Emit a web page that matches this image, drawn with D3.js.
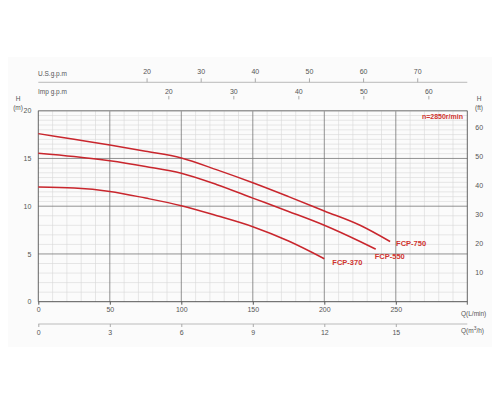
<!DOCTYPE html>
<html>
<head>
<meta charset="utf-8">
<script src="https://cdn.jsdelivr.net/npm/d3@7"></script>
<style>
  body { margin: 0; background: #fff; }
  svg { display: block; font-family: "Liberation Sans", Arial, sans-serif; }
  .tick text { fill: #555; font-size: 7px; }
</style>
</head>
<body>
<div id="chart"></div>
<script>
// flow in L/min, head in m
const flow750 = [0, 25, 50, 75, 100, 125, 150, 175, 200, 225, 246];
const head750 = [17.6, 17.0, 16.4, 15.75, 15.05, 13.8, 12.45, 11.0, 9.5, 8.0, 6.3];
const flow550 = [0, 25, 50, 75, 100, 125, 150, 175, 200, 225, 236];
const head550 = [15.55, 15.2, 14.75, 14.15, 13.45, 12.25, 10.85, 9.45, 8.0, 6.3, 5.5];
const flow370 = [0, 25, 50, 75, 100, 125, 150, 175, 200];
const head370 = [12.0, 11.9, 11.55, 10.85, 10.05, 9.0, 7.85, 6.35, 4.5];
const models = ['FCP-750', 'FCP-550', 'FCP-370'];

const lpmTicks = [0, 50, 100, 150, 200, 250];
const m3hTicks = [0, 3, 6, 9, 12, 15];
const usTicks = [20, 30, 40, 50, 60, 70];
const impTicks = [20, 30, 40, 50, 60];
const mTicks = [0, 5, 10, 15, 20];
const ftTicks = [10, 20, 30, 40, 50, 60];

function renderChart(containerSelector) {
  const W = 500, H = 400;
  const left = 38.3, right = 467.3, top = 110.7, bottom = 301.7;
  const red = '#c9262d';

  const svg = d3.select(containerSelector).append('svg')
    .attr('width', W).attr('height', H);

  svg.append('rect').attr('x', 8).attr('y', 57).attr('width', 484).attr('height', 290)
    .attr('fill', '#fbfbfb');

  const x = d3.scaleLinear().domain([0, 300]).range([left, right]);
  const y = d3.scaleLinear().domain([0, 20]).range([bottom, top]);
  const xUS = d3.scaleLinear().domain([0, 300 / 3.78541]).range([left, right]);
  const xImp = d3.scaleLinear().domain([0, 300 / 4.54609]).range([left, right]);
  const xM3 = d3.scaleLinear().domain([0, 18]).range([left, right]);
  const yFt = d3.scaleLinear().domain([0, 20 / 0.3048]).range([bottom, top]);

  // grid
  const grid = svg.append('g');
  const vMinor = d3.range(10, 300, 10).filter(v => v % 50 !== 0);
  const hMinor = d3.range(0.5, 20, 0.5).filter(v => v % 5 !== 0 && (v >= 10 || v % 1 === 0));
  grid.selectAll('.vmin').data(vMinor).join('line')
    .attr('x1', d => x(d)).attr('x2', d => x(d)).attr('y1', top).attr('y2', bottom)
    .attr('stroke', '#d6d6d6').attr('stroke-width', 0.6);
  grid.selectAll('.hmin').data(hMinor).join('line')
    .attr('x1', left).attr('x2', right).attr('y1', d => y(d)).attr('y2', d => y(d))
    .attr('stroke', '#d6d6d6').attr('stroke-width', 0.6);
  grid.selectAll('.vmaj').data([50, 100, 150, 200, 250]).join('line')
    .attr('x1', d => x(d)).attr('x2', d => x(d)).attr('y1', top).attr('y2', bottom)
    .attr('stroke', '#777').attr('stroke-width', 0.8);
  grid.selectAll('.hmaj').data([5, 10, 15]).join('line')
    .attr('x1', left).attr('x2', right).attr('y1', d => y(d)).attr('y2', d => y(d))
    .attr('stroke', '#777').attr('stroke-width', 0.8);
  grid.append('line').attr('x1', left).attr('x2', right).attr('y1', top).attr('y2', top)
    .attr('stroke', '#999').attr('stroke-width', 1.4);
  grid.append('line').attr('x1', left).attr('x2', left).attr('y1', top).attr('y2', bottom)
    .attr('stroke', '#555').attr('stroke-width', 0.9);
  grid.append('line').attr('x1', right).attr('x2', right).attr('y1', top).attr('y2', bottom + 3)
    .attr('stroke', '#555').attr('stroke-width', 0.9);

  // axes
  const clean = g => g.select('.domain').remove();

  svg.append('g').attr('transform', `translate(0,${bottom})`)
    .call(d3.axisBottom(x).tickValues(lpmTicks).tickSize(3).tickPadding(2))
    .call(g => g.select('.domain').attr('stroke', '#555').attr('d', `M${left},0H${right}`))
    .call(g => g.selectAll('.tick line').attr('stroke', '#555'));

  svg.append('g').attr('transform', `translate(0,324)`)
    .call(d3.axisBottom(xM3).tickValues(m3hTicks).tickSize(3).tickPadding(3))
    .call(g => g.select('.domain').attr('stroke', '#bbb').attr('d', `M${left},0H${right}`))
    .call(g => g.selectAll('.tick line').attr('stroke', '#aaa'));

  svg.append('g').attr('transform', `translate(0,82.3)`)
    .call(d3.axisTop(xUS).tickValues(usTicks).tickSize(4).tickPadding(4))
    .call(g => g.select('.domain').attr('stroke', '#bbb').attr('d', `M${left},0H${right}`))
    .call(g => g.selectAll('.tick line').attr('stroke', '#aaa'));

  svg.append('g').attr('transform', `translate(0,99.4)`)
    .call(d3.axisTop(xImp).tickValues(impTicks).tickSize(3.5).tickPadding(1.5))
    .call(clean)
    .call(g => g.selectAll('.tick line').attr('stroke', '#aaa'));

  svg.append('g').attr('transform', `translate(${left},0)`)
    .call(d3.axisLeft(y).tickValues(mTicks).tickSize(0).tickPadding(7))
    .call(clean);

  svg.append('g').attr('transform', `translate(${right},0)`)
    .call(d3.axisRight(yFt).tickValues(ftTicks).tickSize(0).tickPadding(8))
    .call(clean);

  // unit labels
  const unit = (tx, ty, t, anchor) => svg.append('text').attr('x', tx).attr('y', ty)
    .attr('text-anchor', anchor || 'start').attr('font-size', 6.5).attr('fill', '#555').text(t);
  unit(38, 75.5, 'U.S.g.p.m');
  unit(38, 93.5, 'Imp g.p.m');
  unit(18, 101, 'H', 'middle');
  unit(18, 110, '(m)', 'middle');
  unit(479, 101, 'H', 'middle');
  unit(479, 109.5, '(ft)', 'middle');
  unit(461, 315.5, 'Q(L/min)');
  const qm = unit(461, 333, 'Q(m');
  qm.append('tspan').attr('dy', -3).attr('font-size', 5).text('3');
  qm.append('tspan').attr('dy', 3).text('/h)');

  // curves
  const series = [
    { name: models[0], q: flow750, h: head750, dx: 6, dy: 4 },
    { name: models[1], q: flow550, h: head550, dx: -1, dy: 9.5 },
    { name: models[2], q: flow370, h: head370, dx: 8, dy: 6.5 },
  ];
  const line = d3.line().x(d => x(d[0])).y(d => y(d[1])).curve(d3.curveMonotoneX);
  series.forEach(s => {
    const pts = s.q.map((q, i) => [q, s.h[i]]);
    svg.append('path').attr('d', line(pts))
      .attr('fill', 'none').attr('stroke', red).attr('stroke-width', 1.5);
    const last = pts[pts.length - 1];
    svg.append('text').attr('x', x(last[0]) + s.dx).attr('y', y(last[1]) + s.dy)
      .attr('font-size', 7.5).attr('font-weight', 'bold').attr('fill', '#d0342f')
      .text(s.name);
  });

  svg.append('text').attr('x', 463).attr('y', 119).attr('text-anchor', 'end')
    .attr('font-size', 7).attr('font-weight', 'bold').attr('fill', '#d0342f')
    .text('n=2850r/min');
}

renderChart('#chart');
</script>
</body>
</html>
